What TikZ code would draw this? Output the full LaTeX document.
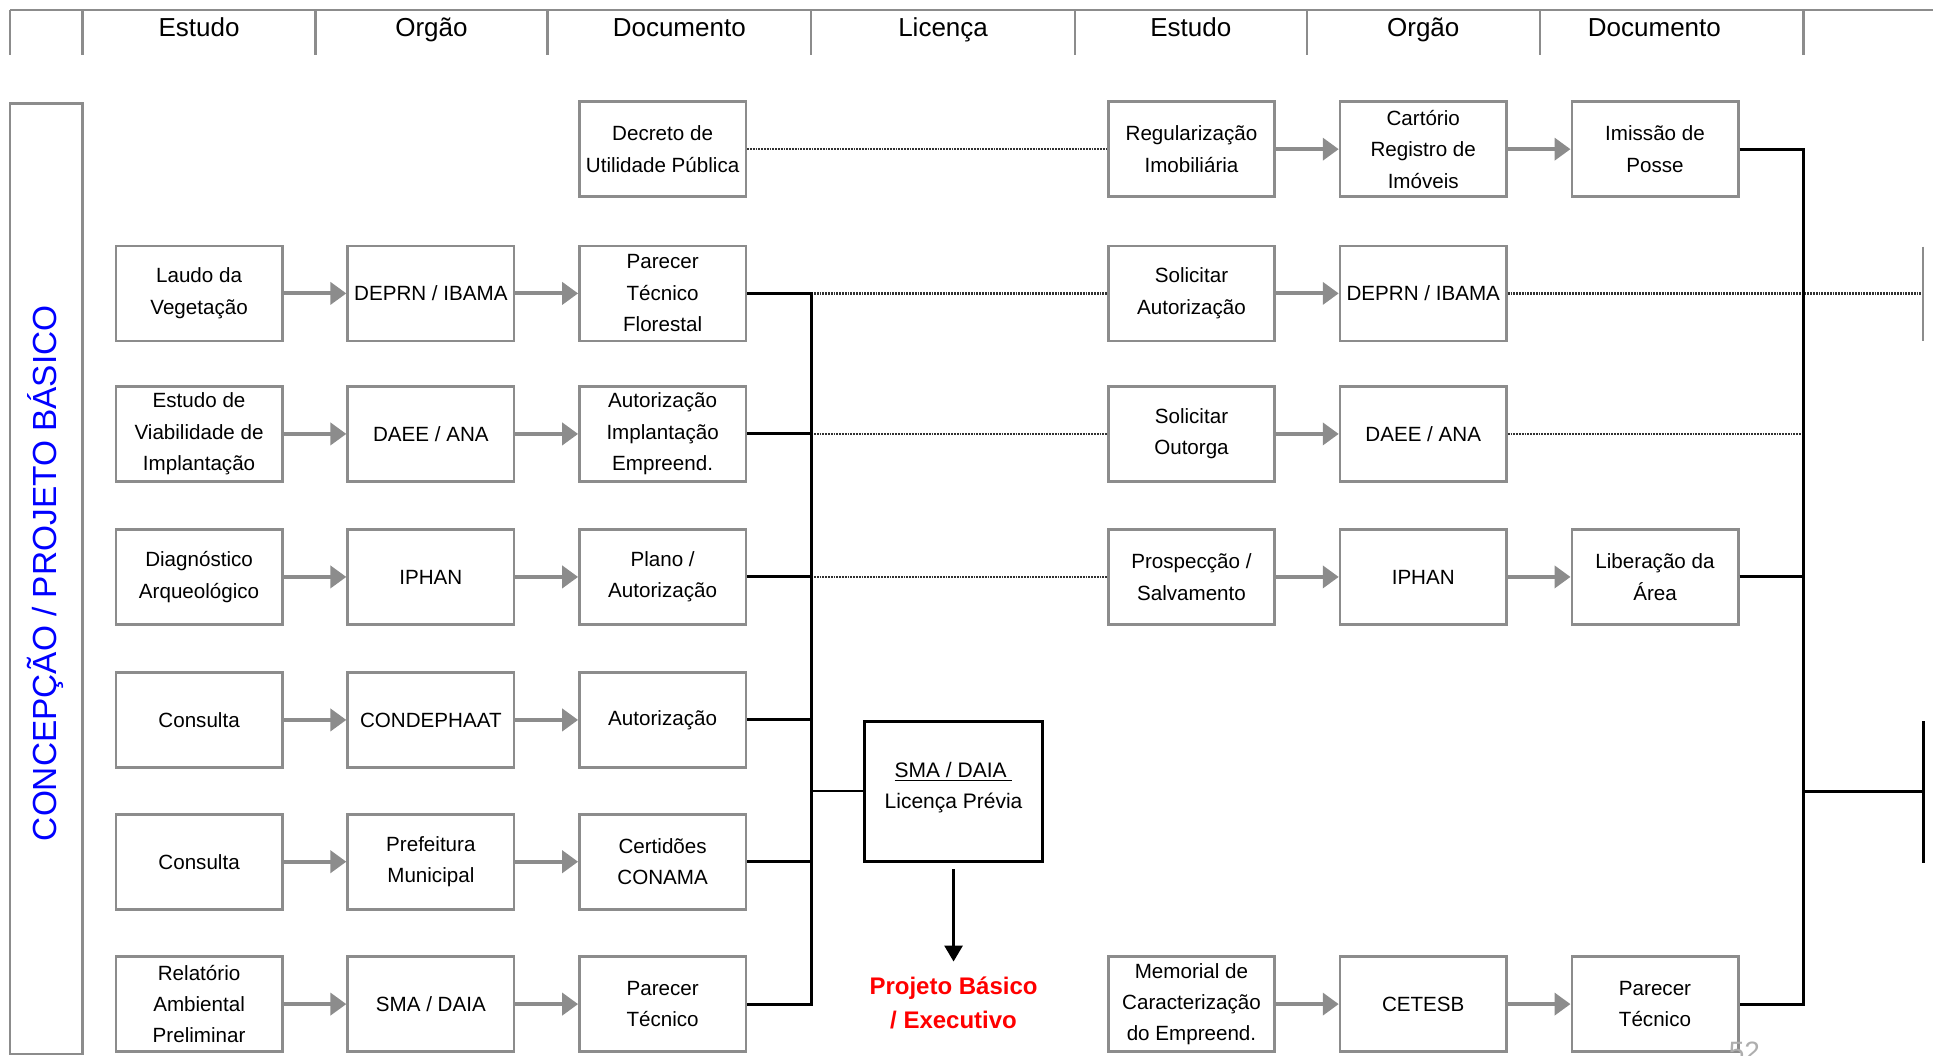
\documentclass[tikz,border=0pt]{standalone}
\usepackage{fontspec}
\setmainfont{Liberation Sans}
\usetikzlibrary{arrows.meta}
\definecolor{bgray}{RGB}{140,140,140}
\definecolor{dgray}{RGB}{50,50,50}
\begin{document}
\begin{tikzpicture}[x=0.6164pt,y=-0.6164pt,
  box/.style={draw=bgray,line width=1.3pt,minimum width=83.2pt,minimum height=47.5pt,
    inner sep=0pt,align=center,font=\fontsize{10.3}{15.7}\selectfont},
  garrow/.style={draw=bgray,line width=2pt,-{Triangle[length=8pt,width=11pt,fill=bgray]}},
  bline/.style={draw=black,line width=1.5pt},
  dline/.style={draw=dgray,line width=1.3pt,dash pattern=on 0.9pt off 0.5pt},
  hdr/.style={font=\fontsize{13}{15}\selectfont,anchor=base,inner sep=0pt},
  sep/.style={draw=bgray,line width=1.2pt}]
\useasboundingbox (0,0) rectangle (1568,856);

% header
\draw[sep] (8,8) -- (1568,8);
\foreach \x in {8,67,256,444,658,872,1060,1249,1463} \draw[sep] (\x,8) -- (\x,45);
\node[hdr] (h1) at (161.5,30) {Estudo};
\node[hdr] (h2) at (350,30) {Orgão};
\node[hdr] (h3) at (551,30) {Documento};
\node[hdr] (h4) at (765,30) {Licença};
\node[hdr] (h5) at (966,30) {Estudo};
\node[hdr] (h6) at (1154.5,30) {Orgão};
\node[hdr] (h7) at (1342,30) {Documento};

% side box
\draw[sep] (8,84) rectangle (67,855);
\node[rotate=90,text=blue,font=\fontsize{16.7}{20}\selectfont] (concep) at (37,465) {CONCEPÇÃO / PROJETO BÁSICO};

% boxes
\node[box] (dec)    at (537.5,121) {Decreto de\\Utilidade Pública};
\node[box] (reg)    at (966.5,121) {Regularização\\Imobiliária};
\node[box] (cart)   at (1154.5,121) {Cartório\\Registro de\\Imóveis};
\node[box] (imis)   at (1342.5,121) {Imissão de\\Posse};

\node[box] (laudo)  at (161.5,238) {Laudo da\\Vegetação};
\node[box] (deprnA) at (349.5,238) {DEPRN / IBAMA};
\node[box] (ptf)    at (537.5,238) {Parecer\\Técnico\\Florestal};
\node[box] (solA)   at (966.5,238) {Solicitar\\Autorização};
\node[box] (deprnB) at (1154.5,238) {DEPRN / IBAMA};

\node[box] (evi)    at (161.5,352) {Estudo de\\Viabilidade de\\Implantação};
\node[box] (daeeA)  at (349.5,352) {DAEE / ANA};
\node[box] (aie)    at (537.5,352) {Autorização\\Implantação\\Empreend.};
\node[box] (solO)   at (966.5,352) {Solicitar\\Outorga};
\node[box] (daeeB)  at (1154.5,352) {DAEE / ANA};

\node[box] (diag)   at (161.5,468) {Diagnóstico\\Arqueológico};
\node[box] (iphA)   at (349.5,468) {IPHAN};
\node[box] (plano)  at (537.5,468) {Plano /\\Autorização};
\node[box] (prosp)  at (966.5,468) {Prospecção /\\Salvamento};
\node[box] (iphB)   at (1154.5,468) {IPHAN};
\node[box] (lib)    at (1342.5,468) {Liberação da\\Área};

\node[box] (consA)  at (161.5,584) {Consulta};
\node[box] (cond)   at (349.5,584) {CONDEPHAAT};
\node[box] (aut)    at (537.5,584) {Autorização};

\node[box] (consB)  at (161.5,699) {Consulta};
\node[box] (pref)   at (349.5,699) {Prefeitura\\Municipal};
\node[box] (cert)   at (537.5,699) {Certidões\\CONAMA};

\node[box] (rap)    at (161.5,814.5) {Relatório\\Ambiental\\Preliminar};
\node[box] (smaA)   at (349.5,814.5) {SMA / DAIA};
\node[box] (ptA)    at (537.5,814.5) {Parecer\\Técnico};
\node[box] (mem)    at (966.5,814.5) {Memorial de\\Caracterização\\do Empreend.};
\node[box] (cet)    at (1154.5,814.5) {CETESB};
\node[box] (ptB)    at (1342.5,814.5) {Parecer\\Técnico};

% gray arrows
\foreach \a/\b in {laudo/deprnA,deprnA/ptf,evi/daeeA,daeeA/aie,diag/iphA,iphA/plano,
  consA/cond,cond/aut,consB/pref,pref/cert,rap/smaA,smaA/ptA,
  reg/cart,cart/imis,solA/deprnB,solO/daeeB,prosp/iphB,iphB/lib,mem/cet,cet/ptB}
  \draw[garrow] (\a.east) -- (\b.west);

% bus coordinates
\coordinate (lbus) at (658,238);
\coordinate (rbus) at (1463,121);
\coordinate (redge) at (1560,238);
\coordinate (rend) at (1560,642);
\coordinate (gtTop) at (1560,200);
\coordinate (gtBot) at (1560,277);
\coordinate (btTop) at (1560,585);
\coordinate (btBot) at (1560,700);

% dotted lines
\draw[dline] (dec.east) -- (reg.west);
\draw[dline] (ptf.east -| lbus) -- (solA.west);
\draw[dline] (aie.east -| lbus) -- (solO.west);
\draw[dline] (plano.east -| lbus) -- (prosp.west);
\draw[dline] (deprnB.east) -- (redge);
\draw[dline] (daeeB.east) -- (daeeB.east -| rbus);

% left bus
\draw[bline] (ptf.east) -- (ptf.east -| lbus) -- (ptA.east -| lbus) -- (ptA.east);
\foreach \n in {aie,plano,aut,cert} \draw[bline] (\n.east) -- (\n.east -| lbus);

% licence box
\node[draw=black,line width=1.5pt,minimum width=89.4pt,minimum height=70.3pt,inner sep=0pt,
  align=center,font=\fontsize{10.5}{15.7}\selectfont] (lp) at (773.5,642) {};
\node[align=center,font=\fontsize{10.5}{15.7}\selectfont] (lptext) at (773.5,639)
  {\underline{SMA / DAIA\ }\\Licença Prévia};
\draw[draw=black,line width=1pt] (lp.west) -- (lp.west -| lbus);
\coordinate (arrend) at (773.5,780);
\draw[draw=black,line width=1.4pt,shorten <=3pt,-{Triangle[length=8pt,width=9pt]}] (lp.south) -- (arrend);
\node[text=red,align=center,font=\fontsize{12}{16.6}\selectfont\bfseries] (proj) at (773.5,813.5)
  {Projeto Básico\\/ Executivo};

% right bus
\draw[bline] (imis.east) -- (imis.east -| rbus) -- (ptB.east -| rbus) -- (ptB.east);
\draw[bline] (lib.east) -- (lib.east -| rbus);
\draw[bline] (rend -| rbus) -- (rend);
\draw[draw=black,line width=1.6pt] (btTop) -- (btBot);
\draw[draw=bgray,line width=1.3pt] (gtTop) -- (gtBot);

% page number (cut off, as in the reference)
\node[text=bgray!70,anchor=north,inner sep=0pt,font=\fontsize{14}{16}\selectfont] (pg) at (1415,845) {52};
\end{tikzpicture}
\end{document}
